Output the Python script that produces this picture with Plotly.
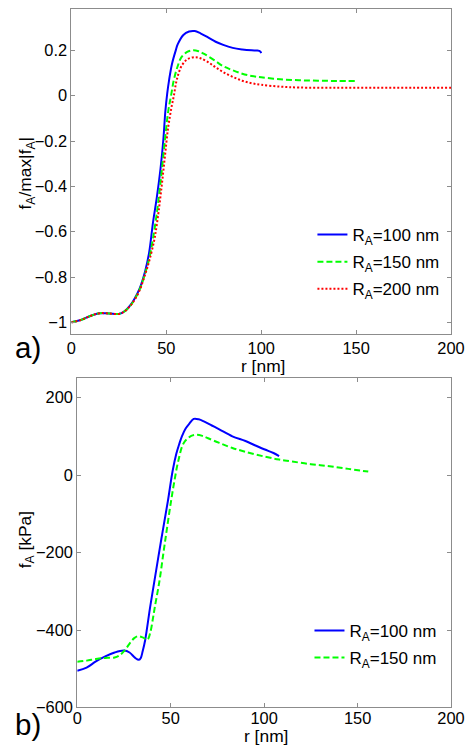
import plotly.graph_objects as go

# ---------- panel a) normalised f_A ----------
r_a100 = [0, 5, 10, 15, 20, 25, 28, 31, 33, 36, 39, 41, 43, 45, 47, 48.5, 49.5, 50.5, 51.5, 53, 55, 56, 59, 62, 65, 68, 72, 76, 80, 85, 90, 95, 98, 99.5, 100]
v_a100 = [-1.0, -0.99, -0.972, -0.96, -0.961, -0.963, -0.951, -0.925, -0.9, -0.85, -0.77, -0.69, -0.56, -0.45, -0.32, -0.19, -0.07, 0.01, 0.07, 0.14, 0.2, 0.226, 0.268, 0.283, 0.285, 0.275, 0.257, 0.238, 0.224, 0.211, 0.204, 0.2, 0.199, 0.195, 0.188]

r_a150 = [0, 5, 10, 15, 20, 25, 28, 31, 33, 36, 39, 41, 43, 45, 47, 49, 51, 52.5, 54, 56, 58, 61, 64, 67, 70, 75, 80, 85, 90, 95, 100, 110, 120, 130, 140, 150]
v_a150 = [-1.0, -0.99, -0.972, -0.96, -0.961, -0.963, -0.952, -0.927, -0.903, -0.855, -0.78, -0.72, -0.63, -0.52, -0.38, -0.22, -0.07, 0.0, 0.07, 0.13, 0.17, 0.193, 0.2, 0.196, 0.184, 0.158, 0.13, 0.112, 0.097, 0.087, 0.081, 0.072, 0.068, 0.066, 0.065, 0.065]

r_a200 = [0, 5, 10, 15, 20, 25, 28, 31, 33, 36, 39, 41, 43.6, 45, 47, 49, 51, 53, 54, 55, 56, 58, 61, 65, 68, 72, 76, 80, 85, 90, 95, 100, 110, 120, 140, 160, 180, 200]
v_a200 = [-1.0, -0.99, -0.972, -0.96, -0.961, -0.963, -0.952, -0.928, -0.905, -0.858, -0.785, -0.73, -0.64, -0.57, -0.44, -0.29, -0.14, -0.04, 0.0, 0.05, 0.085, 0.13, 0.16, 0.17, 0.165, 0.148, 0.125, 0.104, 0.083, 0.066, 0.055, 0.048, 0.04, 0.036, 0.035, 0.035, 0.035, 0.035]

# ---------- panel b) f_A in kPa ----------
r_b100 = [0, 5, 10, 15, 20, 25, 28, 31, 33, 34, 35, 36.3, 39, 41.3, 45, 48.5, 51, 53, 54.5, 56, 58, 60, 62.3, 65, 68, 72, 76, 83, 90, 95, 100.4, 105, 108]
v_b100 = [-505, -497, -481, -468, -458, -453, -458, -472, -477, -472, -455, -427, -341, -273, -165, -67, 10, 55, 79, 100, 120, 133, 145, 144, 138, 128, 118, 100, 88, 77, 66, 57, 49]

r_b150 = [0, 5, 10, 15, 20, 23, 25.5, 28, 30.5, 32.5, 35, 37.5, 39, 40.5, 41.5, 44, 46, 48, 50.2, 52, 54, 57, 61, 64, 67, 70, 76, 83, 90, 100, 108, 115, 125, 135, 145, 155.7]
v_b150 = [-482, -479, -475, -472, -471, -464, -452, -435, -421, -416, -419, -425, -408, -370, -341, -273, -205, -138, -67, -15, 35, 83, 101, 104, 101, 95, 83, 70, 60, 48, 40, 35, 28, 23, 16, 9]

legend_labels_a = ["R<sub>A</sub>=100 nm", "R<sub>A</sub>=150 nm", "R<sub>A</sub>=200 nm"]
legend_labels_b = ["R<sub>A</sub>=100 nm", "R<sub>A</sub>=150 nm"]

xticks = [0, 50, 100, 150, 200]
yticks_a = [-1, -0.8, -0.6, -0.4, -0.2, 0, 0.2]
yticks_b = [-600, -400, -200, 0, 200]

FONT = "Liberation Sans"
OFF = 8                    # default body margin of the page
SX, SY = 0.978, 0.987      # observed picture / page scale
W, H = 470, 744

fig = go.Figure()
fig.add_trace(go.Scatter(x=r_a100, y=v_a100, mode="lines", name=legend_labels_a[0], legendgroup="a1",
                         line=dict(color="#0000ff", width=2, shape="spline"), xaxis="x", yaxis="y", legend="legend"))
fig.add_trace(go.Scatter(x=r_a150, y=v_a150, mode="lines", name=legend_labels_a[1], legendgroup="a2",
                         line=dict(color="#00ff00", width=2, dash="6px,3px", shape="spline"), xaxis="x", yaxis="y", legend="legend"))
fig.add_trace(go.Scatter(x=r_a200, y=v_a200, mode="lines", name=legend_labels_a[2], legendgroup="a3",
                         line=dict(color="#ff0000", width=2, dash="2px,2px", shape="spline"), xaxis="x", yaxis="y", legend="legend"))
fig.add_trace(go.Scatter(x=r_b100, y=v_b100, mode="lines", name=legend_labels_b[0], legendgroup="b1",
                         line=dict(color="#0000ff", width=2, shape="spline"), xaxis="x2", yaxis="y2", legend="legend2"))
fig.add_trace(go.Scatter(x=r_b150, y=v_b150, mode="lines", name=legend_labels_b[1], legendgroup="b2",
                         line=dict(color="#00ff00", width=2, dash="6px,3px", shape="spline"), xaxis="x2", yaxis="y2", legend="legend2"))

def fx(p):
    # p: target picture x -> paper fraction
    return min(1.0, max(0.0, (p / SX - OFF) / W))

def fy(p):
    return min(1.0, max(0.0, 1 - (p / SY - OFF) / H))

def dom_x(p):
    return min(1.0, max(0.0, (p - OFF) / W))

axis_common = dict(showline=True, linecolor="#8c8c8c", linewidth=1, mirror="ticks", ticks="inside",
                   ticklen=4, tickcolor="#8c8c8c", showgrid=False, zeroline=False, ticklabeloverflow="allow",
                   tickfont=dict(family=FONT, size=16.4, color="black"))

# top panel: 0.2 at picture y 49.3, -1 at 321.7; its top is cut at the figure edge
y02, ym1 = 49.3 / SY, 321.7 / SY
ppu = (ym1 - y02) / 1.2
y0 = y02 + 0.2 * ppu
top_a = (y0 - OFF) / ppu
RIGHT_DOM = 464.5          # keeps the "200" tick label inside the figure

fig.update_layout(
    width=W, height=H, margin=dict(l=0, r=0, t=0, b=0),
    paper_bgcolor="white", plot_bgcolor="white",
    font=dict(family=FONT, size=16.4, color="black"),
    xaxis=dict(domain=[fx(67.3), dom_x(RIGHT_DOM)], range=[0, 200], tickvals=xticks, anchor="y", **axis_common),
    yaxis=dict(domain=[fy(332.7), 1.0], range=[-1.05, top_a], tickvals=yticks_a, anchor="x", **axis_common),
    xaxis2=dict(domain=[fx(73.3), dom_x(RIGHT_DOM)], range=[0, 200], tickvals=xticks, anchor="y2",
                ticklabelstandoff=-4, **axis_common),
    yaxis2=dict(domain=[fy(706.7), fy(377.3)], range=[-600, 250], tickvals=yticks_b, anchor="x2", **axis_common),
    legend=dict(x=fx(313), y=fy(216), xanchor="left", yanchor="top", bgcolor="rgba(0,0,0,0)",
                font=dict(family=FONT, size=17), tracegroupgap=2, itemwidth=30),
    legend2=dict(x=fx(310), y=fy(612), xanchor="left", yanchor="top", bgcolor="rgba(0,0,0,0)",
                 font=dict(family=FONT, size=17), tracegroupgap=2, itemwidth=30),
    showlegend=True,
)

annots = [
    dict(text="r [nm]", x=fx(263), y=fy(365), xanchor="center", yanchor="middle", font=dict(size=17.4),
         height=18, borderpad=0),
    dict(text="r [nm]", x=fx(266), y=fy(735), xanchor="center", yanchor="middle", font=dict(size=17.4),
         height=18, borderpad=0),
    dict(text="f<sub>A</sub>/max|f<sub>A</sub>|", x=0.0, y=fy(172), textangle=-90,
         xanchor="left", yanchor="middle", font=dict(size=17.4)),
    dict(text="f<sub>A</sub> [kPa]", x=0.0, y=fy(539), textangle=-90,
         xanchor="left", yanchor="middle", font=dict(size=17.4)),
    dict(text="a)", x=0.0, y=fy(347), xanchor="left", yanchor="middle", font=dict(size=29.5)),
    dict(text="b)", x=0.0, y=fy(724), xanchor="left", yanchor="middle", font=dict(size=29.5)),
]
for a in annots:
    a.update(xref="paper", yref="paper", showarrow=False)
    a["font"]["family"] = FONT
    a["font"]["color"] = "black"
fig.update_layout(annotations=annots)

fig.write_html("out.html", config={"displayModeBar": False})
